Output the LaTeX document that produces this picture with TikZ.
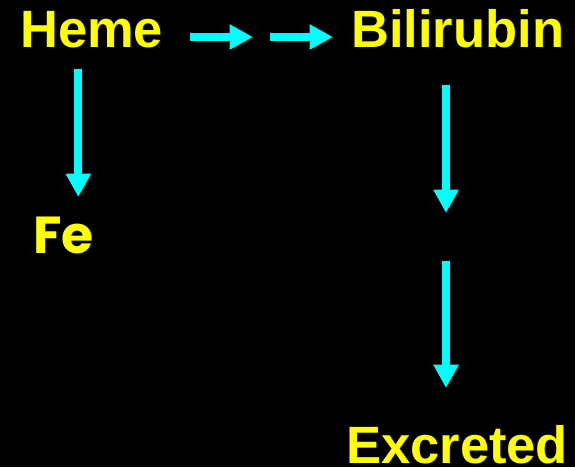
\documentclass[tikz,border=0pt]{standalone}
\usepackage{fontspec}
\setmainfont{Liberation Sans}
\newfontfamily\fefont{Poppins}
\usepackage{tikz}
\usetikzlibrary{arrows.meta, positioning}

\begin{document}
\begin{tikzpicture}[x=1pt,y=1pt,yscale=-1,xscale=1,
  label/.style={anchor=base west, inner sep=0pt, color={rgb, 255:red, 255; green, 255; blue, 0 }, font=\fontsize{52.5}{60}\selectfont\bfseries},
  flow/.style={color={rgb, 255:red, 0; green, 255; blue, 255 }, line width=7.7pt, -{Triangle[length=23.5pt, width=24pt]}}]
%background, sets diagram size 575 x 467
\fill [black] (0,0) rectangle (575,467) ;
\useasboundingbox (0,0) rectangle (575,467) ;

% Text Node
\node (heme) [label] at (20,47) {Heme};
% Text Node
\node (bili) [label] at (351,47) {Bilirubin};
% Text Node
\node (fe) [label, font=\fontsize{52}{60}\selectfont\fefont\bfseries] at (33,253) {Fe};
% Text Node
\node (excr) [label] at (346,463) {Excreted};

%arrow ends
\coordinate (h1) at (190,37) ;
\coordinate (h2) at (253,37) ;
\coordinate (h3) at (270,37) ;
\coordinate (h4) at (333,37) ;
\coordinate (f1) at (78.3,69) ;
\coordinate (f2) at (78.3,197) ;
\coordinate (b1) at (446,85) ;
\coordinate (b2) at (446,213) ;
\coordinate (b3) at (446,261) ;
\coordinate (b4) at (446,388) ;

%Straight Lines
\draw [flow] (h1) -- (h2) ;
\draw [flow] (h3) -- (h4) ;
%Straight Lines
\draw [flow] (f1) -- (f2) ;
%Straight Lines
\draw [flow] (b1) -- (b2) ;
\draw [flow] (b3) -- (b4) ;

\end{tikzpicture}
\end{document}
